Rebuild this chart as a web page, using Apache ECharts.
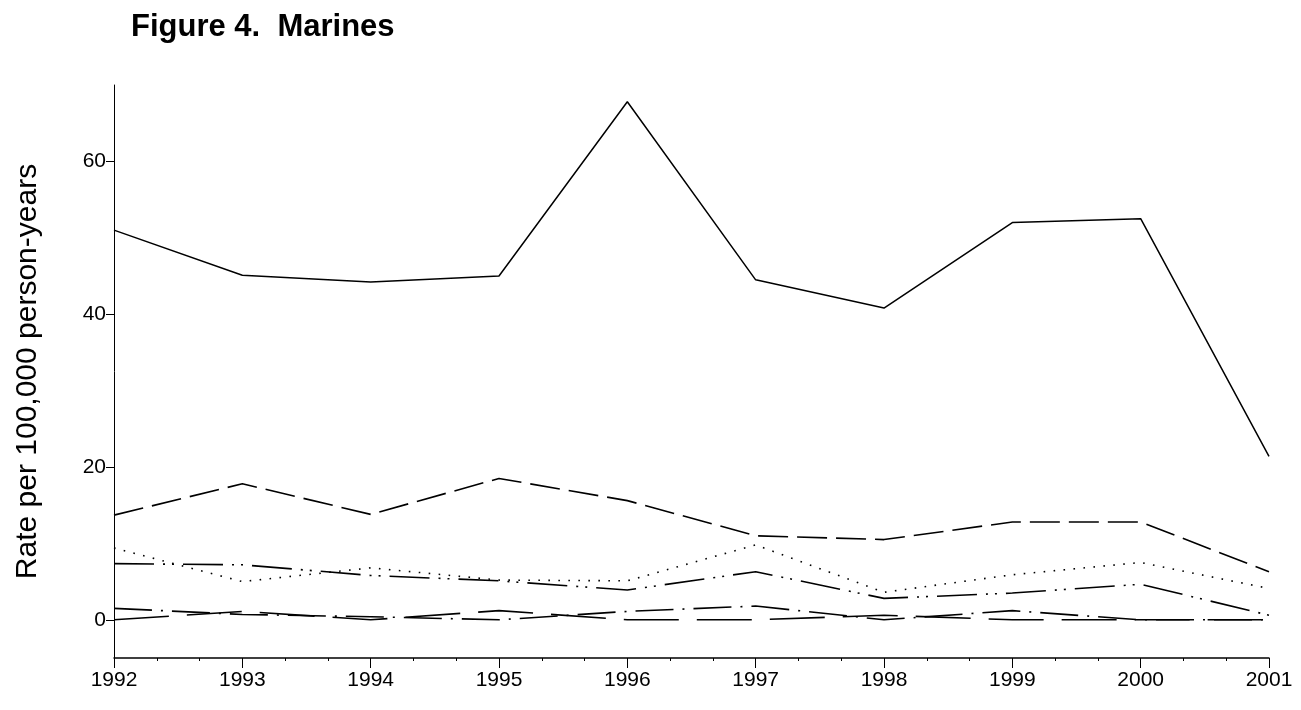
<!DOCTYPE html>
<html>
<head>
<meta charset="utf-8">
<title>Figure 4. Marines</title>
<script src="https://cdn.jsdelivr.net/npm/echarts@6/dist/echarts.min.js"></script>
<style>
  html, body { margin: 0; padding: 0; background: #fff; }
  #chart { width: 1301px; height: 710px; }
</style>
</head>
<body>
<div id="chart"></div>
<script>
const years = [1992, 1993, 1994, 1995, 1996, 1997, 1998, 1999, 2000, 2001];

// values (rate per 100,000 person-years)
const solidLine = [51, 45.1, 44.2, 45, 67.8, 44.5, 40.8, 52, 52.5, 21.4];
const dashLine = [13.7, 17.8, 13.8, 18.5, 15.6, 11.0, 10.5, 12.8, 12.8, 6.3];
const dottedLine = [9.4, 5.0, 6.8, 5.2, 5.1, 9.8, 3.6, 5.9, 7.5, 4.1];
const dashDotDotLine = [7.35, 7.2, 5.8, 5.1, 3.9, 6.3, 2.8, 3.5, 4.65, 0.6];
const dashDotLine = [1.5, 0.7, 0.4, 0, 1.1, 1.8, 0, 1.2, 0, 0];
const longDashLine = [0, 1.1, 0, 1.2, 0, 0, 0.6, 0, 0, 0];

const yTicks = [0, 20, 40, 60];

const font = "Arial, 'Liberation Sans', Helvetica, sans-serif";

const toPairs = (vals) => vals.map((v, i) => [years[i], v]);

const makeSeries = (vals, dash, width) => ({
  type: "line",
  data: toPairs(vals),
  symbol: "none",
  silent: true,
  lineStyle: {
    color: "#000",
    width: width || 1.5,
    type: dash,
    cap: "butt",
  },
});

const chart = echarts.init(document.getElementById("chart"));

chart.setOption({
  animation: false,
  backgroundColor: "#fff",
  title: {
    text: "Figure 4.  Marines",
    left: 126,
    top: 7,
    textStyle: {
      fontFamily: font,
      fontSize: 31,
      fontWeight: "bold",
      color: "#000",
    },
  },
  grid: {
    left: 114,
    right: 32,
    top: 85,
    bottom: 52,
  },
  xAxis: {
    type: "value",
    min: 1992,
    max: 2001,
    interval: 1,
    axisLine: { onZero: false, lineStyle: { color: "#000", width: 1.5 } },
    axisTick: { length: 10, lineStyle: { color: "#000" } },
    minorTick: { show: true, splitNumber: 3, length: 3, lineStyle: { color: "#000" } },
    splitLine: { show: false },
    axisLabel: {
      color: "#000",
      fontFamily: font,
      fontSize: 21,
      margin: 12,
      formatter: (v) => String(v),
    },
  },
  yAxis: {
    type: "value",
    min: -5,
    max: 70,
    name: "Rate per 100,000 person-years",
    nameLocation: "middle",
    nameGap: 71,
    nameTextStyle: {
      color: "#000",
      fontFamily: font,
      fontSize: 30,
    },
    axisLine: { show: true, lineStyle: { color: "#000", width: 1 } },
    axisTick: { show: true, length: 8, customValues: yTicks, lineStyle: { color: "#000" } },
    splitLine: { show: false },
    axisLabel: {
      color: "#000",
      fontFamily: font,
      fontSize: 21,
      margin: 8,
      customValues: yTicks,
    },
  },
  series: [
    makeSeries(solidLine, "solid", 1.5),
    makeSeries(dashLine, [30, 9], 1.6),
    makeSeries(dottedLine, [1.6, 8.4], 1.6),
    makeSeries(dashDotDotLine, [40, 9, 2, 7, 2, 9], 1.6),
    makeSeries(dashDotLine, [38, 9, 2, 9], 1.6),
    makeSeries(longDashLine, [55, 18], 1.6),
  ],
});

window.addEventListener("resize", () => chart.resize());
</script>
</body>
</html>
